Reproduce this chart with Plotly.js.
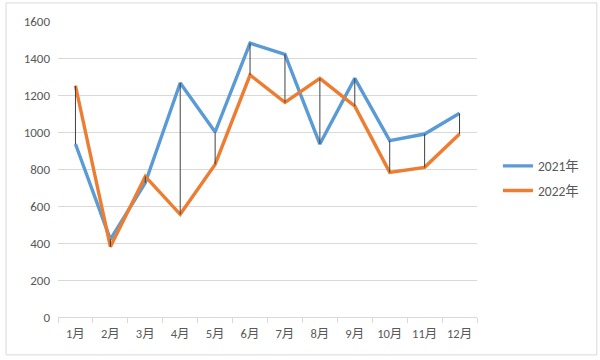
<!DOCTYPE html>
<html>
<head>
<meta charset="utf-8">
<script src="https://cdn.plot.ly/plotly-3.0.1.min.js"></script>
<style>html,body{margin:0;padding:0;background:#fff;}#chart{width:600px;height:360px;}</style>
</head>
<body>
<div id="chart"></div>
<script>
const months = ["1月","2月","3月","4月","5月","6月","7月","8月","9月","10月","11月","12月"];
const sales2021 = [935, 420, 725, 1265, 1000, 1480, 1420, 935, 1290, 953, 989, 1101];
const sales2022 = [1250, 380, 760, 555, 825, 1308, 1160, 1290, 1140, 782, 809, 989];
const yTicks = [0, 200, 400, 600, 800, 1000, 1200, 1400, 1600];

const hlX = [], hlY = [];
months.forEach((m, i) => {
  hlX.push(m, m, null);
  hlY.push(sales2021[i], sales2022[i], null);
});

const fontFam = "Calibri, 'Noto Sans CJK SC', 'Liberation Sans', sans-serif";
const traces = [
  {x: months, y: sales2021, type: "scatter", mode: "lines", name: "2021年",
   line: {color: "#5B9BD5", width: 3.4}, legendgroup: "a"},
  {x: months, y: sales2022, type: "scatter", mode: "lines", name: "2022年",
   line: {color: "#ED7D31", width: 3.4}, legendgroup: "b"},
  {x: hlX, y: hlY, type: "scatter", mode: "lines", showlegend: false,
   line: {color: "#404040", width: 1}, hoverinfo: "skip"}
];

const layout = {
  width: 600, height: 360,
  margin: {l: 58, r: 123, t: 21, b: 43},
  paper_bgcolor: "#ffffff", plot_bgcolor: "#ffffff",
  font: {family: fontFam, size: 13, color: "#595959"},
  showlegend: true,
  legend: {x: 1.05, y: 0.562, xanchor: "left", yanchor: "top",
           font: {size: 13.5, color: "#595959"}, tracegroupgap: 4,
           traceorder: "grouped", bgcolor: "rgba(0,0,0,0)"},
  xaxis: {type: "category", categoryarray: months, range: [-0.5, 11.5], showgrid: false,
          showline: true, linecolor: "#d9d9d9", linewidth: 1,
          ticks: "outside", tickson: "boundaries", ticklen: 5, tickcolor: "#d9d9d9",
          ticklabelstandoff: 5, tickangle: 0,
          tickfont: {size: 12.5, color: "#595959"}, fixedrange: true},
  yaxis: {range: [0, 1600], tickvals: yTicks, ticktext: yTicks.map(String),
          showgrid: true, gridcolor: "#d9d9d9", gridwidth: 1, zeroline: false,
          showline: false, ticks: "", ticklabelstandoff: 7,
          tickfont: {size: 13, color: "#595959"}, fixedrange: true},
  shapes: [{type: "rect", xref: "paper", yref: "paper",
            x0: -0.124, x1: 1.286, y0: -0.128, y1: 1.061,
            line: {color: "#d9d9d9", width: 1}, fillcolor: "rgba(0,0,0,0)", layer: "below"}]
};

Plotly.newPlot("chart", traces, layout, {displayModeBar: false, staticPlot: true});
</script>
</body>
</html>
